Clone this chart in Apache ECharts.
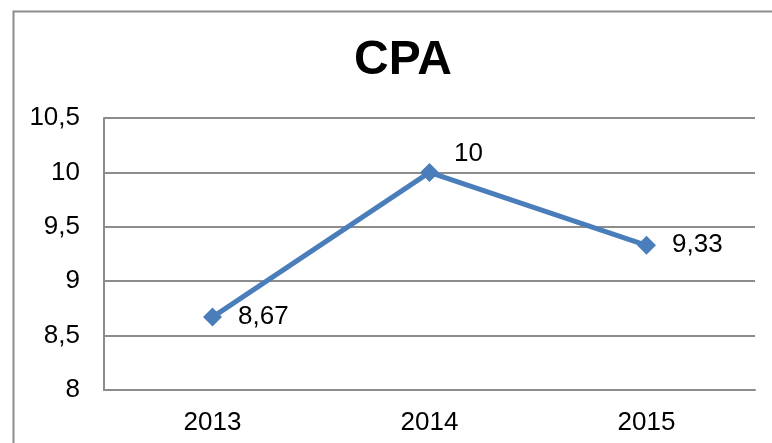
<!DOCTYPE html>
<html><head><meta charset="utf-8">
<script src="https://cdn.jsdelivr.net/npm/echarts@6/dist/echarts.min.js"></script>
<style>html,body{margin:0;padding:0;background:#fff}#c{width:772px;height:443px}</style>
</head><body><div id="c"></div>
<script>
var categories = ['2013', '2014', '2015'];
var values = [8.67, 10, 9.33];
var yTicks = { min: 8, max: 10.5, interval: 0.5 };
var labelPositions = ['right', [34, -22], 'right'];

var chart = echarts.init(document.getElementById('c'), null, { renderer: 'canvas' });
var fmt = function (v) { return String(v).replace('.', ','); };
chart.setOption({
  animation: false,
  backgroundColor: '#fff',
  title: { text: 'CPA', left: 398, textAlign: 'center', top: 32,
    textStyle: { fontFamily: 'Liberation Sans, Arial', fontWeight: 'bold', fontSize: 48, color: '#000' } },
  graphic: [{ type: 'rect', left: 11, top: 9, shape: { width: 790, height: 470 },
    style: { fill: 'none', stroke: '#8c8c8c', lineWidth: 2 }, z: 0 }],
  grid: { left: 104, right: 17, top: 118, bottom: 53 },
  xAxis: { type: 'category', data: categories, boundaryGap: true,
    axisLine: { lineStyle: { color: '#8c8c8c', width: 2 } }, axisTick: { show: false },
    axisLabel: { color: '#000', fontSize: 26, fontFamily: 'Liberation Sans, Arial', margin: 20 } },
  yAxis: { type: 'value', min: yTicks.min, max: yTicks.max, interval: yTicks.interval,
    axisLine: { show: true, lineStyle: { color: '#8c8c8c', width: 2 } }, axisTick: { show: false },
    splitLine: { lineStyle: { color: '#8c8c8c', width: 2 } },
    axisLabel: { color: '#000', fontSize: 26, fontFamily: 'Liberation Sans, Arial', margin: 24, formatter: fmt } },
  series: [{ type: 'line', data: values.map(function (v, i) {
      return { value: v, label: { position: labelPositions[i] } }; }),
    symbol: 'diamond', symbolSize: 19,
    lineStyle: { color: '#4a7ebb', width: 5 }, itemStyle: { color: '#4a7ebb' },
    label: { show: true, color: '#000', fontSize: 26, fontFamily: 'Liberation Sans, Arial', distance: 16,
      formatter: function (p) { return fmt(p.value); } } }]
});
</script></body></html>
